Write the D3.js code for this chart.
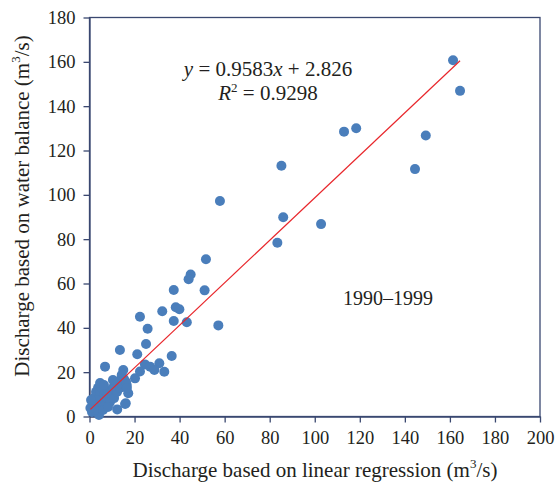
<!DOCTYPE html>
<html>
<head>
<meta charset="utf-8">
<script src="https://cdn.jsdelivr.net/npm/d3@7"></script>
<style>
  html, body { margin: 0; padding: 0; background: #fff; }
  svg text { font-family: "Liberation Serif", "DejaVu Serif", serif; fill: #231f20; }
</style>
</head>
<body>
<svg id="chart" width="556" height="490"></svg>
<script>
// Discharge based on linear regression (x) vs water balance (y), 1990–1999
const xValues = [
  161.4, 164.5, 113.0, 118.4, 149.3, 144.5, 85.2, 86.0, 102.8, 83.4, 57.9, 57.2,
  51.7, 44.9, 44.0, 37.4, 51.1, 32.3, 38.3, 39.9, 22.4, 37.4, 43.2, 25.8, 25.1,
  21.2, 36.5, 24.6, 31.0, 22.4, 26.9, 28.8, 33.2,
  6.9, 13.5, 15.0, 14.3, 20.2, 12.1, 16.1, 12.3, 17.2, 16.5, 11.3,
  1.1, 1.6, 2.0, 2.9, 3.8, 4.7, 5.1, 4.2, 3.3, 5.5, 6.4, 6.9, 7.8, 8.2, 9.1,
  10.0, 10.4, 11.3, 10.9, 12.2, 13.5, 14.4, 15.3, 16.2, 10.4, 15.8, 16.6,
  2.9, 2.4, 6.0, 8.2, 4.7, 6.4, 0.4, 0.7
];
const yValues = [
  160.7, 146.9, 128.5, 130.0, 126.8, 111.6, 113.1, 89.9, 86.8, 78.4, 97.2, 41.1,
  70.9, 64.1, 61.9, 57.1, 56.9, 47.5, 49.3, 48.4, 45.0, 43.1, 42.5, 39.6, 32.7,
  28.1, 27.3, 23.5, 24.0, 20.3, 22.5, 21.0, 20.2,
  22.5, 30.0, 21.0, 18.7, 17.2, 15.7, 6.0, 3.2, 10.5, 14.2, 15.2,
  2.0, 5.2, 8.3, 11.1, 12.9, 11.1, 13.3, 0.7, 3.8, 7.4, 9.7, 5.2, 8.3, 11.5, 6.5,
  9.7, 12.9, 14.7, 8.3, 11.1, 12.9, 14.7, 16.9, 15.6, 16.5, 5.6, 12.9,
  7.4, 2.9, 2.9, 4.3, 15.1, 14.2, 3.8, 7.4
];
const xTicks = [0, 20, 40, 60, 80, 100, 120, 140, 160, 180, 200];
const yTicks = [0, 20, 40, 60, 80, 100, 120, 140, 160, 180];
const slope = 0.9583, intercept = 2.826;
const equationText = ["y", " = 0.9583", "x", " + 2.826"];
const r2Text = "0.9298";
const periodLabel = "1990–1999";

const svg = d3.select("#chart");
const mLeft = 89.5, mRight = 540, mTop = 17.5, mBottom = 416.5;
const x = d3.scaleLinear().domain([0, 200]).range([mLeft, mRight]);
const y = d3.scaleLinear().domain([0, 180]).range([mBottom, mTop]);
const axisColor = "#3a4870";

// frame
svg.append("rect")
  .attr("x", mLeft).attr("y", mTop)
  .attr("width", mRight - mLeft).attr("height", mBottom - mTop)
  .attr("fill", "none").attr("stroke", axisColor).attr("stroke-width", 1.3);

// axes
const gx = svg.append("g").attr("transform", `translate(0,${mBottom})`)
  .call(d3.axisBottom(x).tickValues(xTicks).tickSizeInner(6).tickSizeOuter(0).tickPadding(8));
const gy = svg.append("g").attr("transform", `translate(${mLeft},0)`)
  .call(d3.axisLeft(y).tickValues(yTicks).tickSizeInner(6).tickSizeOuter(0).tickPadding(8));
[gx, gy].forEach(g => {
  g.select(".domain").attr("stroke", axisColor).attr("stroke-width", 1.3);
  g.selectAll(".tick line").attr("stroke", axisColor).attr("stroke-width", 1.3);
  g.selectAll(".tick text").attr("font-size", 18.5)
    .attr("font-family", "'Liberation Serif', serif").attr("fill", "#231f20");
});

// points
svg.append("g").selectAll("circle")
  .data(xValues.map((v, i) => [v, yValues[i]]))
  .join("circle")
  .attr("cx", d => x(d[0])).attr("cy", d => y(d[1]))
  .attr("r", 5).attr("fill", "#4a7ebb");

// regression line
const xr = d3.extent(xValues);
svg.append("line")
  .attr("x1", x(xr[0])).attr("y1", y(slope * xr[0] + intercept))
  .attr("x2", x(xr[1])).attr("y2", y(slope * xr[1] + intercept))
  .attr("stroke", "#e8262b").attr("stroke-width", 1.2);

// equation
const eq = svg.append("text").attr("x", 268).attr("y", 76)
  .attr("text-anchor", "middle").attr("font-size", 21);
equationText.forEach((t, i) => {
  eq.append("tspan").text(t).attr("font-style", i % 2 === 0 ? "italic" : "normal");
});
const r2 = svg.append("text").attr("x", 268).attr("y", 100)
  .attr("text-anchor", "middle").attr("font-size", 21);
r2.append("tspan").text("R").attr("font-style", "italic");
r2.append("tspan").text("2").attr("font-size", 13).attr("dy", -8);
r2.append("tspan").text(" = " + r2Text).attr("dy", 8);

svg.append("text").attr("x", 388).attr("y", 305)
  .attr("text-anchor", "middle").attr("font-size", 20).text(periodLabel);

// axis titles
const xt = svg.append("text").attr("x", 315).attr("y", 477)
  .attr("text-anchor", "middle").attr("font-size", 21);
xt.append("tspan").text("Discharge based on linear regression (m");
xt.append("tspan").text("3").attr("font-size", 13).attr("dy", -9);
xt.append("tspan").text("/s)").attr("dy", 9);

const yt = svg.append("text")
  .attr("transform", `translate(29,206) rotate(-90)`)
  .attr("text-anchor", "middle").attr("font-size", 21);
yt.append("tspan").text("Discharge based on water balance (m");
yt.append("tspan").text("3").attr("font-size", 13).attr("dy", -9);
yt.append("tspan").text("/s)").attr("dy", 9);
</script>
</body>
</html>
